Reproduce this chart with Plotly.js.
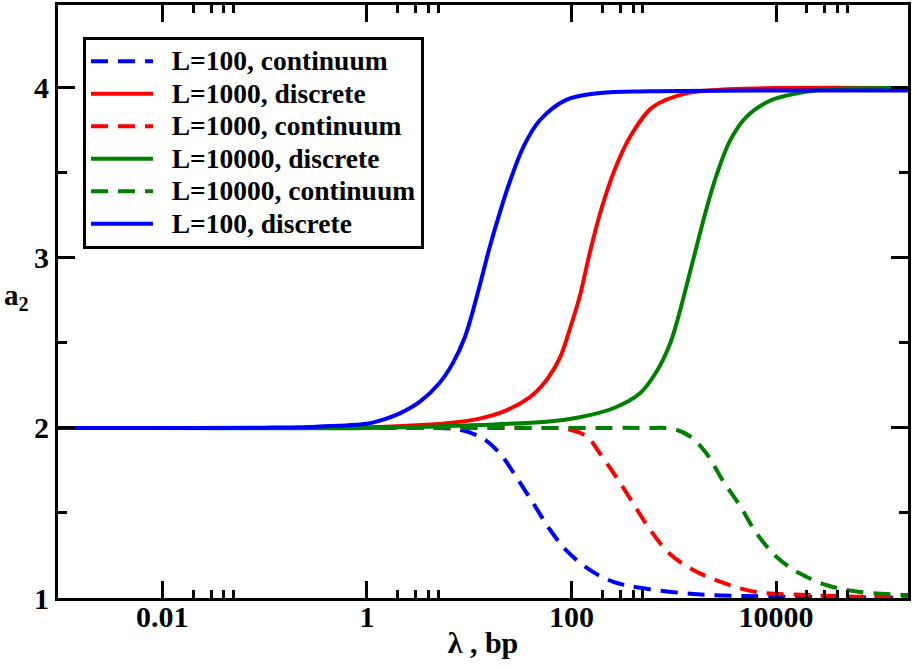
<!DOCTYPE html>
<html>
<head>
<meta charset="utf-8">
<script src="https://cdn.plot.ly/plotly-3.0.1.min.js"></script>
<style>
  html, body { margin: 0; padding: 0; background: #ffffff; }
  #grafico { width: 914px; height: 668px; }
</style>
</head>
<body>
<div id="grafico"></div>
<script>
// valores (lambda en bp, a2)
const xAzulDisc = [0.0009, 0.01, 0.1, 0.32, 1, 1.34, 2.1, 3.3, 5.1, 6.9, 9.1, 12.7, 15.8, 20, 25, 34, 49, 89, 190, 590, 10000, 200000];
const yAzulDisc = [2, 2, 2.002, 2.008, 2.025, 2.043, 2.086, 2.155, 2.263, 2.38, 2.537, 2.84, 3.06, 3.27, 3.45, 3.655, 3.81, 3.93, 3.97, 3.98, 3.985, 3.985];

const xRojoDisc = [0.0009, 0.01, 1, 6, 12.6, 23.4, 39, 50, 60, 78, 95, 120, 151, 190, 257, 372, 631, 1350, 2820, 10000, 200000];
const yRojoDisc = [2, 2, 2.004, 2.028, 2.055, 2.105, 2.18, 2.24, 2.30, 2.42, 2.57, 2.77, 3.03, 3.26, 3.50, 3.71, 3.89, 3.97, 3.99, 4.0, 4.0];

const xVerdeDisc = [0.0009, 0.01, 1, 12.6, 57, 120, 257, 468, 676, 912, 1070, 1350, 1660, 2090, 2630, 3550, 5130, 8710, 12600, 18200, 38900, 200000];
const yVerdeDisc = [2, 2, 2, 2.018, 2.037, 2.063, 2.116, 2.204, 2.33, 2.49, 2.62, 2.85, 3.06, 3.29, 3.49, 3.69, 3.83, 3.925, 3.955, 3.975, 3.995, 4.0];

const xAzulCont = [0.0009, 0.01, 1, 5, 8.1, 13.5, 20, 29, 42, 62, 89, 151, 257, 468, 1450, 4470, 200000];
const yAzulCont = [2, 2, 2, 2.0, 1.99, 1.94, 1.85, 1.71, 1.56, 1.40, 1.28, 1.165, 1.095, 1.06, 1.025, 1.012, 1.001];

const xRojoCont = [0.0009, 0.01, 1, 50, 89, 141, 190, 275, 398, 589, 912, 1550, 3020, 6460, 20000, 61700, 200000];
const yRojoCont = [2, 2, 2, 2, 1.995, 1.95, 1.85, 1.71, 1.56, 1.40, 1.26, 1.165, 1.09, 1.035, 1.018, 1.008, 1.003];

const xVerdeCont = [0.0009, 0.01, 1, 100, 500, 977, 1450, 2090, 3020, 4470, 6460, 10200, 17000, 31600, 61700, 162000, 200000];
const yVerdeCont = [2, 2, 2, 2, 2, 1.995, 1.95, 1.85, 1.69, 1.54, 1.38, 1.24, 1.145, 1.075, 1.038, 1.02, 1.018];

const nombres = ['L=100, continuum', 'L=1000, discrete', 'L=1000, continuum', 'L=10000, discrete', 'L=10000, continuum', 'L=100, discrete'];

const ticksX = [0.01, 1, 100, 10000];
const etiquetasX = ['0.01', '1', '100', '10000'];
const menoresX = [0.02, 0.03, 0.04, 0.05, 2, 3, 4, 5, 200, 300, 400, 500, 20000, 30000, 40000, 50000];
const ticksY = [1, 2, 3, 4];

const AZUL = '#0000ff';
const ROJO = '#ff0000';
const VERDE = '#008000';
const GUION = '17px,10px';
const FAMILIA = '"Liberation Serif", "Times New Roman", Times, serif';

function traza(x, y, nombre, color, guion) {
  return {
    x: x,
    y: y,
    mode: 'lines',
    // texto de la leyenda mas grande que su interlineado, y algo separado de la muestra
    name: '<span style="font-size:27.5px">\u00a0\u00a0' + nombre + '</span>',
    line: { color: color, width: 4, dash: guion, shape: 'spline', smoothing: 1 }
  };
}

const datos = [
  traza(xAzulCont, yAzulCont, nombres[0], AZUL, GUION),
  traza(xRojoDisc, yRojoDisc, nombres[1], ROJO, 'solid'),
  traza(xRojoCont, yRojoCont, nombres[2], ROJO, GUION),
  traza(xVerdeDisc, yVerdeDisc, nombres[3], VERDE, 'solid'),
  traza(xVerdeCont, yVerdeCont, nombres[4], VERDE, GUION),
  traza(xAzulDisc, yAzulDisc, nombres[5], AZUL, 'solid')
];

const fuente = { family: FAMILIA, size: 30, color: '#000000', weight: 'bold' };

const layout = {
  width: 914,
  height: 668,
  margin: { l: 58, r: 6, t: 5, b: 70 },
  paper_bgcolor: '#ffffff',
  plot_bgcolor: '#ffffff',
  showlegend: true,
  font: fuente,
  xaxis: {
    type: 'log',
    range: [-3.02, 5.29],
    tickmode: 'array',
    tickvals: ticksX,
    ticktext: etiquetasX,
    ticks: 'inside',
    ticklen: 17,
    tickwidth: 3,
    tickcolor: '#000000',
    ticklabelstandoff: -10,
    showline: true,
    linewidth: 3,
    linecolor: '#000000',
    mirror: 'allticks',
    showgrid: false,
    zeroline: false,
    tickfont: fuente,
    minor: {
      tickmode: 'array',
      tickvals: menoresX,
      ticks: 'inside',
      ticklen: 8,
      tickwidth: 3,
      tickcolor: '#000000',
      showgrid: false
    },
    title: { text: 'λ , bp', font: fuente, standoff: 0 }
  },
  yaxis: {
    range: [1, 4.488],
    tickmode: 'array',
    tickvals: ticksY,
    ticks: 'inside',
    ticklen: 17,
    tickwidth: 3,
    tickcolor: '#000000',
    showline: true,
    linewidth: 3,
    linecolor: '#000000',
    mirror: 'allticks',
    showgrid: false,
    zeroline: false,
    tickfont: fuente,
    minor: {
      dtick: 0.5,
      ticks: 'inside',
      ticklen: 9,
      tickwidth: 3,
      tickcolor: '#000000',
      showgrid: false
    }
  },
  legend: {
    x: 0.0294,
    y: 0.946,
    xanchor: 'left',
    yanchor: 'top',
    bgcolor: '#ffffff',
    bordercolor: '#000000',
    borderwidth: 3,
    itemwidth: 62,
    font: { family: FAMILIA, size: 22.7, color: '#000000', weight: 'bold' }
  },
  // titulo del eje y horizontal, como en la figura original
  annotations: [{
    text: 'a<sub>2</sub>',
    xref: 'paper',
    yref: 'paper',
    x: -0.049,
    y: 0.508,
    xanchor: 'center',
    yanchor: 'middle',
    showarrow: false,
    font: { family: FAMILIA, size: 29, color: '#000000', weight: 'bold' }
  }]
};

Plotly.newPlot('grafico', datos, layout, { displayModeBar: false, responsive: false });
</script>
</body>
</html>
